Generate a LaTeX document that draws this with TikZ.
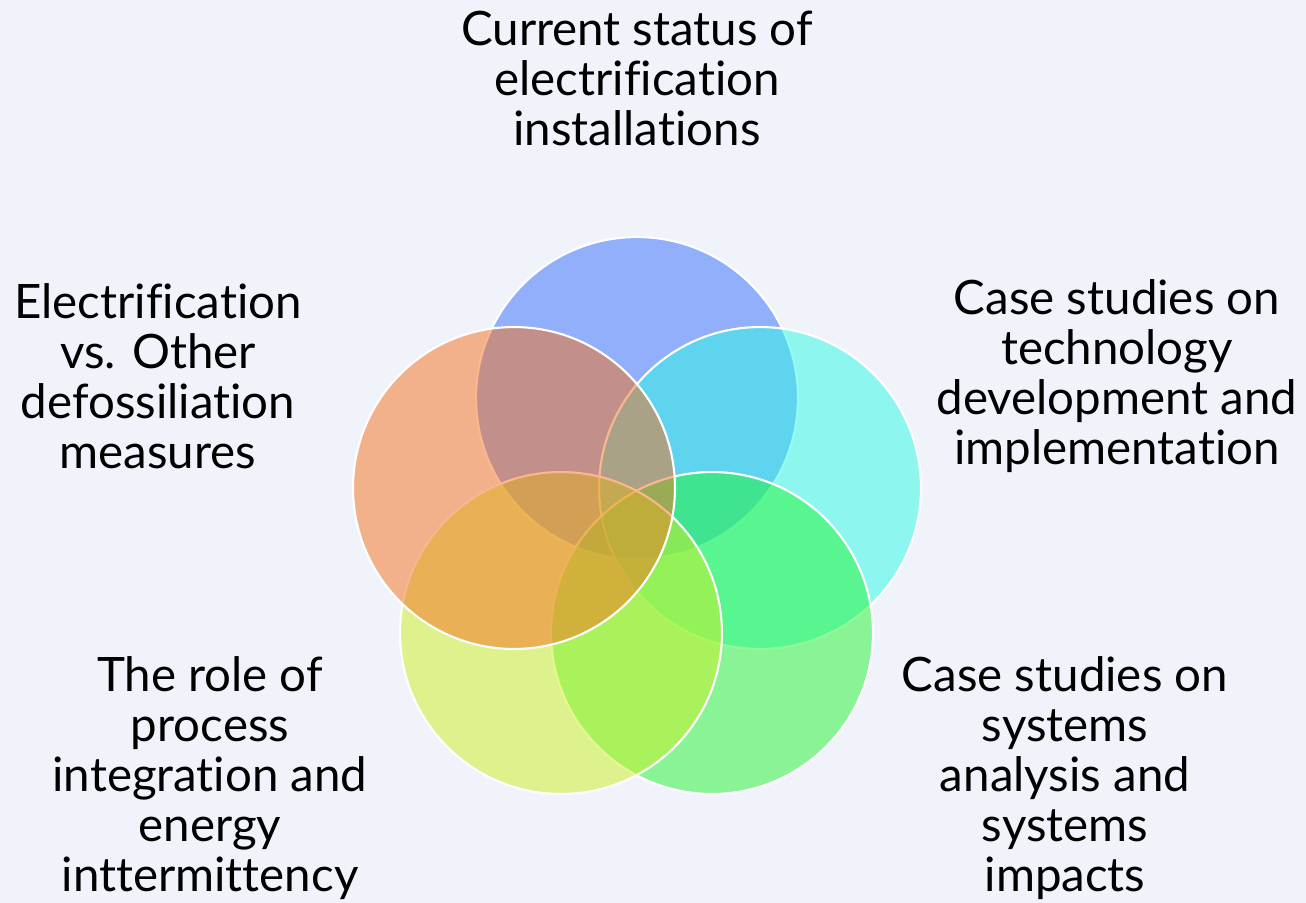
\documentclass[tikz,border=0pt]{standalone}
\usepackage{fontspec}
\setmainfont{Lato}[Ligatures={NoCommon,NoRequired,NoContextual}]
\usetikzlibrary{shapes}

\definecolor{bgpaper}{RGB}{240,243,250}
\definecolor{cblue}{RGB}{52,109,250}
\definecolor{ccyan}{RGB}{44,249,230}
\definecolor{cgreen}{RGB}{36,245,50}
\definecolor{cyellow}{RGB}{204,241,34}
\definecolor{corange}{RGB}{246,113,30}

\begin{document}
\begin{tikzpicture}[x=0.02cm, y=-0.02cm]
		\fill[bgpaper] (0,0) rectangle (1306,903);
		\useasboundingbox (0,0) rectangle (1306,903);

		\tikzstyle{every node} = [circle, draw=white, line width=1.2pt, minimum size=6.44cm, inner sep=0pt, fill opacity=.5]
		\node[fill=cblue] (status) at (637, 398) {};
		\node[fill=ccyan] (tech) at (760, 488) {};
		\node[fill=cgreen] (systems) at (712, 633) {};
		\node[fill=cyellow] (process) at (561, 633) {};
		\node[fill=corange] (defoss) at (514, 488) {};

		\tikzstyle{every node} = [align=center, font=\fontsize{27}{28.45}\selectfont, text=black]
		\node (tstatus) at (637, 78) {Current status of\\electrification\\installations};
		\node (ttech) at (1117, 376) {Case studies on\\technology\\development and\\implementation};
		\node (tsystems) at (1065, 778) {Case studies on\\systems\\analysis and\\systems\\impacts};
		\node (tprocess) at (210, 778) {The role of\\process\\integration and\\energy\\inttermittency};
		\node (tdefoss) at (158, 376) {Electrification\\vs. Other\\defossiliation\\measures};
\end{tikzpicture}
\end{document}
